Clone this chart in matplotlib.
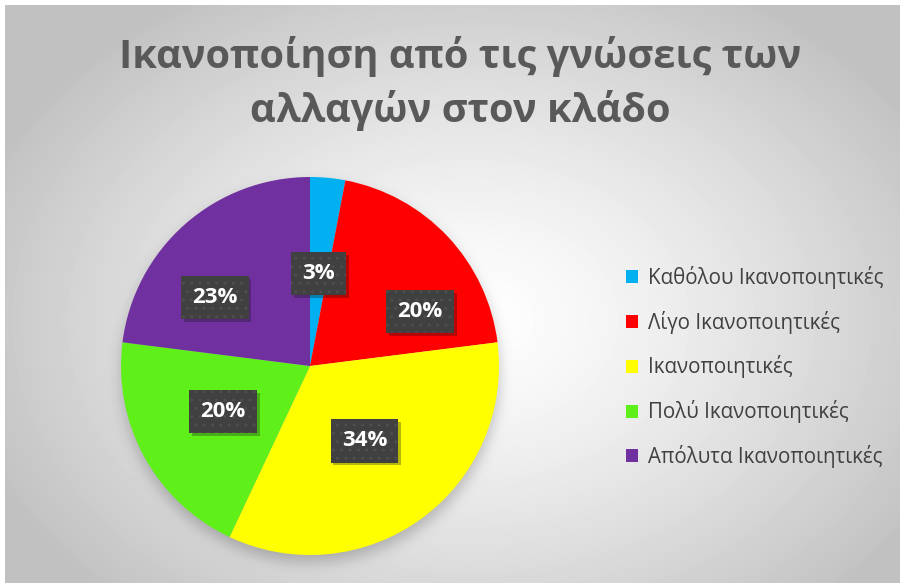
import numpy as np
import matplotlib
matplotlib.use('Agg')
import matplotlib.pyplot as plt
from matplotlib import patheffects as pe

# δεδομένα
categories = ['Καθόλου Ικανοποιητικές', 'Λίγο Ικανοποιητικές', 'Ικανοποιητικές',
              'Πολύ Ικανοποιητικές', 'Απόλυτα Ικανοποιητικές']
shares = [3, 20, 34, 20, 23]
title = 'Ικανοποίηση από τις γνώσεις των\nαλλαγών στον κλάδο'

colors = ['#00B0F0', '#FF0000', '#FFFF00', '#5FF01A', '#7030A0']
# θέση ετικετών: απόσταση από κέντρο (κλάσμα ακτίνας) και στροφή σε μοίρες
label_r = [0.49, 0.65, 0.49, 0.52, 0.62]
label_turn = [0, 17, 0, 1, -13]

plt.rcParams['font.family'] = ['Open Sans', 'DejaVu Sans']

W, H = 900, 583
fig = plt.figure(figsize=(W / 100, H / 100), dpi=100)
fig.patch.set_facecolor('white')

cx, cy, R = 310, 366, 189  # κέντρο/ακτίνα πίτας σε pixels


def blur(img, sigma):
    k = np.arange(-3 * sigma, 3 * sigma + 1)
    k = np.exp(-k ** 2 / (2.0 * sigma ** 2))
    k /= k.sum()
    img = np.apply_along_axis(lambda r: np.convolve(r, k, mode='same'), 1, img)
    img = np.apply_along_axis(lambda c: np.convolve(c, k, mode='same'), 0, img)
    return img


# φόντο: ακτινική διαβάθμιση γκρι + σκιά της πίτας
x0, y0 = 5, 5
yy, xx = np.mgrid[y0:H, x0:W].astype(float)
d = np.sqrt(((xx - 470) / 520) ** 2 + ((yy - 320) / 380) ** 2)
bg = 1 - 0.24 * np.clip(d, 0, 1) ** 1.3
disk = (((xx - cx) ** 2 + (yy - (cy + 7)) ** 2) <= R ** 2).astype(float)
bg = bg * (1 - 0.22 * blur(disk, 7))

bax = fig.add_axes([x0 / W, 0, (W - x0) / W, (H - y0) / H])
bax.imshow(bg, cmap='gray', vmin=0, vmax=1, aspect='auto', extent=[0, 1, 0, 1],
           interpolation='bilinear')
bax.axis('off')

# πίτα
ax = fig.add_axes([(cx - R) / W, (H - cy - R) / H, 2 * R / W, 2 * R / H])
wedges, _ = ax.pie(shares, colors=colors, startangle=90, counterclock=False,
                   radius=1, wedgeprops=dict(linewidth=0))
ax.set_xlim(-1, 1)
ax.set_ylim(-1, 1)

total = float(sum(shares))
cum = np.cumsum([0] + shares[:-1])
for i, v in enumerate(shares):
    ang = np.radians((cum[i] + v / 2.0) / total * 360 + label_turn[i])
    t = ax.text(label_r[i] * np.sin(ang), label_r[i] * np.cos(ang), f'{v}%',
                ha='center', va='center', color='white', fontsize=16,
                fontweight='bold',
                bbox=dict(boxstyle='square,pad=0.5', fc='#404040', ec='#4e4e4e',
                          lw=0, hatch='..'))
    t.get_bbox_patch().set_path_effects(
        [pe.SimplePatchShadow(offset=(2, -2), alpha=0.3, hatch=None), pe.Normal()])

# τίτλος
fig.text(460 / W, 1 - 36 / H, title, ha='center', va='top', fontsize=28.6,
         fontweight='bold', color='#595959', linespacing=1.4)

# υπόμνημα
fig.legend(wedges, categories, loc='center left',
           bbox_to_anchor=(626 / W, 1 - 367 / H), frameon=False, fontsize=14.8,
           labelcolor='#404040', handlelength=0.6, handleheight=0.6,
           handletextpad=0.45, labelspacing=1.06, borderpad=0, borderaxespad=0)

fig.savefig('out.png', dpi=100)
